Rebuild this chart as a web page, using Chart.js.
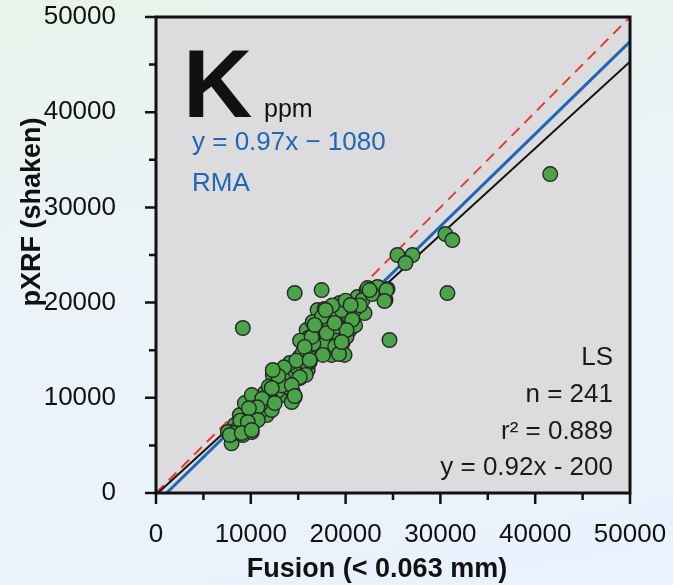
<!DOCTYPE html>
<html>
<head>
<meta charset="utf-8">
<script src="https://cdn.jsdelivr.net/npm/chart.js@4/dist/chart.umd.min.js"></script>
<style>
  html, body { margin: 0; padding: 0; }
  body { background: linear-gradient(170deg, #e8f3eb 0%, #ebf3f8 45%, #e9f2fd 100%); }
  #wrap { width: 673px; height: 585px; position: relative; }
</style>
</head>
<body>
<div id="wrap"><canvas id="myChart"></canvas></div>
<script>
// fusion (< 0.063 mm) vs pXRF (shaken), K ppm
const fusion = [
  7970, 8320, 7580, 9160, 10100, 9370, 8840, 9900, 10740, 11680,
  11160, 12210, 9370, 10420, 11470, 10100, 12530, 13260, 14630, 14420,
  13890, 13050, 12320, 13790, 15160, 14840, 16000, 16210, 15370, 14320,
  8600, 9600, 10300, 11000, 11900, 12800, 13400, 14100, 15160, 15890,
  15680, 16420, 17260, 18320, 19680, 18530, 19890, 16740, 18840, 20420,
  16950, 17790, 18630, 19890, 19370, 22000, 17050, 18000, 19370, 20420,
  21260, 22210, 23260, 24210, 24420, 23370, 21790, 22320, 20420, 15890,
  16530, 18530, 17790, 14630, 17470, 9160, 24630, 25470, 27050, 26320,
  30530, 31260, 30740, 41580,
  15500, 16100, 17000, 17800, 18200, 19100, 19600, 20100, 20900, 21500,
  17500, 16300, 14800, 13300, 12000, 11200, 10700, 9800, 8900, 8300,
  15800, 17600, 18900, 19300, 16800, 18600, 20000, 22800, 21000, 20700,
  15200, 16600, 18000, 13500, 12900,
  22530, 24310, 24100, 20530, 20100, 19580, 16420, 15680, 16210, 15160,
  14320, 14630, 12320, 10740, 9680, 7790, 9050, 10100, 12530, 12210,
  17890, 18840, 16740
];
const pxrf = [
  5220, 7140, 6410, 6090, 6410, 7460, 8190, 8400, 7880, 8190,
  8720, 8720, 9450, 9770, 10500, 10290, 9980, 10290, 10080, 10610,
  11130, 11660, 12390, 12600, 12080, 13230, 12920, 13760, 13970, 9560,
  6700, 7000, 8900, 9300, 11200, 10700, 12000, 13650, 14290, 13650,
  15550, 15020, 16070, 16280, 15760, 14500, 14500, 16910, 16910, 17120,
  17960, 17440, 18490, 18380, 18910, 18900, 19220, 19220, 19960, 19750,
  20590, 21320, 21530, 20270, 21430, 21640, 20270, 21530, 18490, 17120,
  17960, 18700, 19330, 21010, 21320, 17330, 16070, 25000, 25000, 24160,
  27200, 26570, 21000, 33500,
  14800, 16300, 15300, 15600, 17800, 17500, 19200, 16400, 19200, 19700,
  18500, 14200, 13900, 11300, 10100, 9900, 9000, 8900, 7600, 6300,
  12400, 14500, 15400, 14600, 17400, 19700, 20200, 20900, 17600, 18200,
  16000, 15700, 16800, 13200, 12300,
  21320, 21320, 20170, 19750, 17120, 15860, 16390, 15340, 13970, 12180,
  11340, 10190, 12920, 7670, 7460, 6090, 6300, 6620, 9450, 11030,
  19220, 17860, 17650
];

// reference lines (end points)
const oneToOneX = [0, 50000];
const oneToOneY = [0, 50000];
const rmaX = [1113, 50000];
const rmaY = [0, 47420];
const lsX = [200, 50000];
const lsY = [0, 45300];

const xTicks = [0, 10000, 20000, 30000, 40000, 50000];
const yTicks = [0, 10000, 20000, 30000, 40000, 50000];

const pts = (xs, ys) => xs.map((v, i) => ({ x: v, y: ys[i] }));
const FONT = "'Liberation Sans', Arial, sans-serif";

const noPad = s => { s.paddingLeft = 0; s.paddingRight = 0; s.paddingTop = 0; s.paddingBottom = 0; };

const frame = {
  id: 'frame',
  beforeDraw(chart) {
    const { ctx, chartArea: a } = chart;
    ctx.save();
    ctx.fillStyle = '#dcdcde';
    ctx.fillRect(a.left, a.top, a.width, a.height);
    ctx.restore();
  },
  afterDraw(chart) {
    const { ctx, chartArea: a, scales: { x, y } } = chart;
    ctx.save();
    ctx.strokeStyle = '#111';
    ctx.lineWidth = 2.5;
    ctx.beginPath();
    x.ticks.forEach(t => {
      const px = x.getPixelForValue(t.value);
      const len = t.value % 10000 === 0 ? 11 : 7;
      ctx.moveTo(px, a.bottom);
      ctx.lineTo(px, a.bottom + len);
    });
    y.ticks.forEach(t => {
      const py = y.getPixelForValue(t.value);
      const len = t.value % 10000 === 0 ? 11 : 7;
      ctx.moveTo(a.left, py);
      ctx.lineTo(a.left - len, py);
    });
    ctx.stroke();
    ctx.lineWidth = 3;
    ctx.strokeRect(a.left, a.top, a.width, a.height);

    // axis titles
    ctx.fillStyle = '#111';
    ctx.font = 'bold 27px ' + FONT;
    ctx.textAlign = 'center';
    ctx.textBaseline = 'middle';
    ctx.fillText('Fusion (< 0.063 mm)', 377, 570);
    ctx.save();
    ctx.translate(33, 212);
    ctx.rotate(-Math.PI / 2);
    ctx.fillText('pXRF (shaken)', 0, 0);
    ctx.restore();

    // element label
    ctx.textAlign = 'left';
    ctx.textBaseline = 'alphabetic';
    ctx.font = 'bold 96px ' + FONT;
    ctx.fillText('K', 183, 117);
    ctx.font = '25px ' + FONT;
    ctx.fillText('ppm', 264, 117);

    ctx.fillStyle = '#1f66b5';
    ctx.font = '26px ' + FONT;
    ctx.textBaseline = 'middle';
    ctx.fillText('y = 0.97x \u2212 1080', 192, 143);
    ctx.fillText('RMA', 192, 184);

    ctx.fillStyle = '#1a1a1a';
    ctx.textAlign = 'right';
    ctx.fillText('LS', 613, 358);
    ctx.fillText('n = 241', 613, 395);
    ctx.fillText('r\u00b2 = 0.889', 613, 432);
    ctx.fillText('y = 0.92x - 200', 613, 468);
    ctx.restore();
  }
};

new Chart(document.getElementById('myChart'), {
  type: 'scatter',
  data: {
    datasets: [
      {
        data: pts(fusion, pxrf),
        backgroundColor: '#4ba448',
        borderColor: '#262626',
        borderWidth: 1.4,
        pointRadius: 7.3
      },
      {
        type: 'line',
        data: pts(lsX, lsY),
        borderColor: '#111',
        borderWidth: 2,
        pointRadius: 0
      },
      {
        type: 'line',
        data: pts(rmaX, rmaY),
        borderColor: '#1f66b5',
        borderWidth: 3,
        pointRadius: 0
      },
      {
        type: 'line',
        data: pts(oneToOneX, oneToOneY),
        borderColor: '#e83a33',
        borderWidth: 2,
        borderDash: [11, 7],
        pointRadius: 0
      }
    ]
  },
  options: {
    responsive: true,
    maintainAspectRatio: false,
    animation: false,
    layout: { padding: { top: 17, right: 43, left: 0, bottom: 0 } },
    plugins: { legend: { display: false }, tooltip: { enabled: false } },
    scales: {
      x: {
        type: 'linear',
        min: 0,
        max: 50000,
        grid: { display: false },
        border: { display: false },
        afterFit: s => { s.height = 92; noPad(s); },
        ticks: {
          stepSize: 5000,
          maxRotation: 0,
          autoSkip: false,
          padding: 18,
          color: '#111',
          font: { family: FONT, size: 26 },
          callback: v => xTicks.includes(v) ? String(v) : ''
        }
      },
      y: {
        type: 'linear',
        min: 0,
        max: 50000,
        grid: { display: false },
        border: { display: false },
        afterFit: s => { s.width = 156; noPad(s); },
        ticks: {
          stepSize: 5000,
          autoSkip: false,
          padding: 32,
          color: '#111',
          font: { family: FONT, size: 26 },
          callback: v => yTicks.includes(v) ? String(v) : ''
        }
      }
    }
  },
  plugins: [frame]
});
</script>
</body>
</html>
